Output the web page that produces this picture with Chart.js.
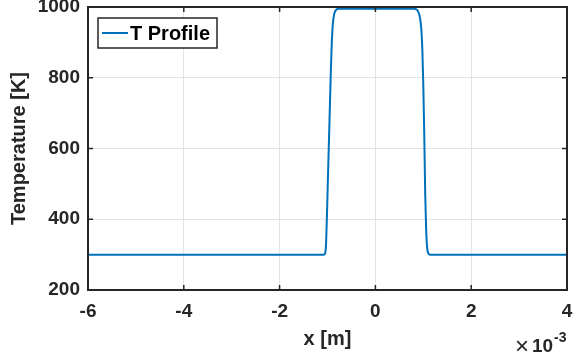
<!DOCTYPE html>
<html>
<head>
<meta charset="utf-8">
<script src="https://cdn.jsdelivr.net/npm/chart.js@4"></script>
<style>
  html, body { margin: 0; padding: 0; background: #fff; }
  #wrap { width: 573px; height: 357px; }
</style>
</head>
<body>
<div id="wrap"><canvas id="c"></canvas></div>
<script>
// x positions in metres, temperature in K
var xPos = [-6e-3, -1.08e-3, -1.05e-3, -1.04e-3, -1.03e-3, -1.01e-3, -0.99e-3, -0.97e-3, -0.95e-3, -0.93e-3, -0.91e-3, -0.89e-3, -0.86e-3, -0.82e-3, -0.76e-3,
            0.80e-3, 0.86e-3, 0.90e-3, 0.93e-3, 0.96e-3, 0.98e-3, 1.00e-3, 1.02e-3, 1.04e-3, 1.06e-3, 1.08e-3, 1.10e-3, 1.14e-3, 4e-3];
var temps = [300, 300, 303, 312, 330, 420, 520, 620, 720, 820, 900, 950, 980, 992, 995,
             995, 993, 985, 970, 935, 880, 780, 640, 470, 370, 320, 305, 300, 300];
var seriesName = 'T Profile';
var xTickLabels = ['-6', '-4', '-2', '0', '2', '4'];
var yTickLabels = ['200', '400', '600', '800', '1000'];

var points = [];
for (var i = 0; i < xPos.length; i++) points.push({x: xPos[i], y: temps[i]});

var dark = '#262626';
var fontFam = '"Liberation Sans", Arial, Helvetica, sans-serif';

// axes box, inward ticks, legend and exponent label like matlab
var matlabBits = {
  id: 'matlabBits',
  afterDraw: function(chart) {
    var ctx = chart.ctx, a = chart.chartArea;
    var xs = chart.scales.x, ys = chart.scales.y;
    ctx.save();
    ctx.strokeStyle = dark;
    ctx.lineWidth = 1.5;
    ctx.beginPath();
    xs.ticks.forEach(function(t) {
      var px = xs.getPixelForValue(t.value);
      ctx.moveTo(px, a.bottom); ctx.lineTo(px, a.bottom - 5);
      ctx.moveTo(px, a.top); ctx.lineTo(px, a.top + 5);
    });
    ys.ticks.forEach(function(t) {
      var py = ys.getPixelForValue(t.value);
      ctx.moveTo(a.left, py); ctx.lineTo(a.left + 5, py);
      ctx.moveTo(a.right, py); ctx.lineTo(a.right - 5, py);
    });
    ctx.stroke();
    ctx.lineWidth = 2;
    ctx.strokeRect(a.left, a.top, a.right - a.left, a.bottom - a.top);

    // legend
    var ds = chart.data.datasets[0];
    ctx.fillStyle = '#fff';
    ctx.fillRect(98, 18, 119, 30);
    ctx.lineWidth = 1.5;
    ctx.strokeStyle = dark;
    ctx.strokeRect(98, 18, 119, 30);
    ctx.strokeStyle = ds.borderColor;
    ctx.lineWidth = 2;
    ctx.beginPath();
    ctx.moveTo(102, 33); ctx.lineTo(128, 33);
    ctx.stroke();
    ctx.fillStyle = '#000';
    ctx.font = 'bold 20px ' + fontFam;
    ctx.textBaseline = 'middle';
    ctx.textAlign = 'left';
    ctx.fillText(ds.label, 130, 34);

    // x10^-3
    ctx.fillStyle = dark;
    ctx.font = '24px ' + fontFam;
    ctx.textBaseline = 'alphabetic';
    ctx.fillText('\u00d7', 515, 354);
    ctx.font = 'bold 19px ' + fontFam;
    ctx.fillText('10', 532, 352);
    ctx.font = 'bold 14px ' + fontFam;
    ctx.fillText('-3', 554, 342);
    ctx.restore();
  }
};

new Chart(document.getElementById('c'), {
  type: 'line',
  data: {
    datasets: [{
      label: seriesName,
      data: points,
      borderColor: '#0072BD',
      borderWidth: 2,
      pointRadius: 0,
      cubicInterpolationMode: 'monotone',
      fill: false
    }]
  },
  options: {
    responsive: true,
    maintainAspectRatio: false,
    animation: false,
    layout: { padding: { top: 7, right: 6, left: 0, bottom: 0 } },
    plugins: { legend: { display: false }, tooltip: { enabled: false } },
    scales: {
      x: {
        type: 'linear',
        min: -6e-3,
        max: 4e-3,
        afterFit: function(s) {
          s.height = 67;
          s.paddingLeft = 0; s.paddingRight = 0;
        },
        afterBuildTicks: function(s) {
          s.ticks = xTickLabels.map(function(t) { return {value: Number(t) * 1e-3}; });
        },
        ticks: {
          color: dark,
          padding: 10,
          maxRotation: 0,
          font: { family: fontFam, size: 19, weight: 'bold' },
          callback: function(v) { return String(Math.round(v * 1000)); }
        },
        grid: { color: '#e3e3e3', lineWidth: 1, drawTicks: false },
        border: { display: false },
        title: {
          display: true,
          text: 'x [m]',
          color: dark,
          padding: { top: 0, bottom: 6 },
          font: { family: fontFam, size: 20, weight: 'bold' }
        }
      },
      y: {
        min: 200,
        max: 1000,
        afterFit: function(s) {
          s.width = 88;
          s.paddingTop = 0; s.paddingBottom = 0;
        },
        afterBuildTicks: function(s) {
          s.ticks = yTickLabels.map(function(t) { return {value: Number(t)}; });
        },
        ticks: {
          color: dark,
          padding: 8,
          font: { family: fontFam, size: 19, weight: 'bold' },
          callback: function(v) { return String(v); }
        },
        grid: { color: '#e3e3e3', lineWidth: 1, drawTicks: false },
        border: { display: false },
        title: {
          display: true,
          text: 'Temperature [K]',
          color: dark,
          padding: { top: 7, bottom: 0 },
          font: { family: fontFam, size: 20, weight: 'bold' }
        }
      }
    }
  },
  plugins: [matlabBits]
});
</script>
</body>
</html>
